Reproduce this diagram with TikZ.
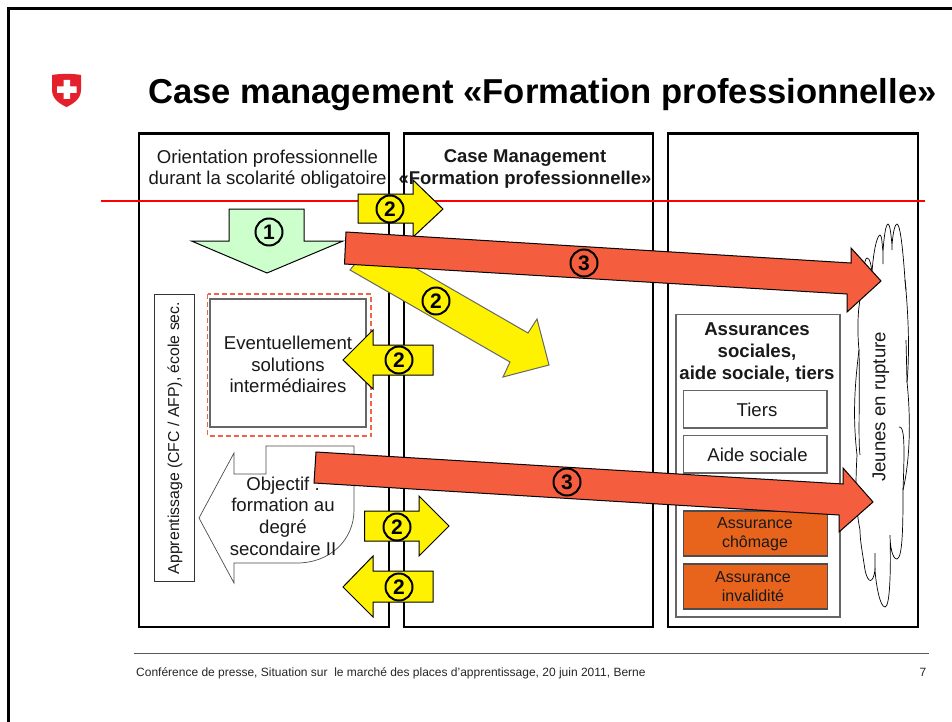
\documentclass[tikz,border=0pt]{standalone}
\usepackage{fontspec}
\setmainfont{Liberation Sans}
\definecolor{gfill}{HTML}{CCFFCC}
\definecolor{rfill}{HTML}{F55D3F}
\definecolor{ofill}{HTML}{E8641C}
\definecolor{dashc}{HTML}{F0644A}
\definecolor{logored}{HTML}{E4202C}
\newcommand{\fs}[1]{\fontsize{#1}{#1}\selectfont}
\tikzset{
 colbox/.style={draw=black,line width=2.2pt,fill=white},
 yarrow/.style={draw=black,line width=1pt,fill=yellow,line join=miter},
 rarrow/.style={draw=black,line width=1pt,fill=rfill},
 numc/.style={circle,draw=black,line width=2pt,inner sep=0pt,minimum size=27pt,font=\fs{21}\bfseries},
 lab/.style={align=center,inner sep=0pt,text=black!90},
 graybox/.style={draw=black!60,line width=1.2pt,fill=white},
 obox/.style={draw=black!70,line width=1.2pt,fill=ofill},
}
\begin{document}
\begin{tikzpicture}[x=1pt,y=-1pt]
\useasboundingbox (0,0) rectangle (952,722);
\fill[white] (0,0) rectangle (952,722);
\draw[line width=3pt] (8.5,722) -- (8.5,8.5) -- (952,8.5);
% logo
\fill[logored] (52,75) .. controls (60,73.5) and (73,73.5) .. (81,75) -- (81,90) .. controls (81,99) and (73,104) .. (66.5,107) .. controls (60,104) and (52,99) .. (52,90) -- cycle;
\fill[white] (63.5,80) rectangle (70,99) (57,86.5) rectangle (76.5,93);
\node[anchor=base west,inner sep=0pt,font=\fs{34.6}\bfseries] (title) at (148,104) {Case management «Formation professionnelle»};
% columns
\draw[colbox] (139,133.5) rectangle (389,627);
\draw[colbox] (404,133.5) rectangle (653,627);
\draw[colbox] (668,133.5) rectangle (918,627);
\node[lab,font=\fs{18.6}] (h1) at (267.5,169) {Orientation professionnelle\\[3pt]durant la scolarité obligatoire};
\node[lab,font=\fs{18.5}\bfseries] (h2) at (525,169) {Case Management\\[3pt]«Formation professionnelle»};
\draw[red,line width=2pt] (101,201) -- (925,201);
% left column
\node[draw=black!80,line width=1pt,fill=white,minimum width=40pt,minimum height=287pt,inner sep=0pt] (app) at (174,437.5) {};
\node[rotate=90,lab,font=\fs{15.8}] (apptext) at (175,438) {Apprentissage (CFC / AFP), école sec.};
\draw[dashc,dashed,line width=1.2pt,dash pattern=on 5pt off 3pt] (207.5,294) rectangle (371,436);
\node[draw=black!60,line width=1.2pt,fill=white,minimum width=156pt,minimum height=128pt,inner sep=0pt] (sol) at (288,363) {};
\node[lab,font=\fs{18.6}] (soltext) at (288,364.5) {Eventuellement\\[3pt]solutions\\[3pt]intermédiaires};
\draw[black!70,line width=.7pt,fill=white] (199,518) -- (234,453) -- (234,474) -- (266,474) -- (266,446) -- (354,446) -- (354,510) .. controls (354,540) and (330,563) .. (297,563) -- (234,563) -- (234,583) -- cycle;
\node[lab,font=\fs{18.6}] (obj) at (283,516) {Objectif :\\[3pt]formation au\\[3pt]degré\\[3pt]secondaire II};
% right column
\draw[graybox] (676,314.5) rectangle (840,617);
\node[lab,font=\fs{18.6}\bfseries] (assu) at (757,352.5) {Assurances\\[3pt]sociales,\\[3pt]aide sociale, tiers};
\draw[graybox] (683.5,390.5) rectangle (827,428);
\node[lab,font=\fs{18.6}] (tiers) at (757,410) {Tiers};
\draw[graybox] (683.5,435.5) rectangle (827,473);
\node[lab,font=\fs{18.6}] (aide) at (757.5,455) {Aide sociale};
\draw[obox] (683.5,511) rectangle (827.5,556);
\node[lab,font=\fs{16}] (cho) at (755,534.5) {Assurance\\[3pt]chômage};
\draw[obox] (683.5,564) rectangle (827.5,609);
\node[lab,font=\fs{16}] (inv) at (753,587) {Assurance\\[3pt]invalidité};
% cloud
\draw[black,line width=.7pt,fill=white] (872,272)
 .. controls (874,245) and (878,235) .. (880,235)
 .. controls (882,235) and (882,245) .. (883,252)
 .. controls (884,235) and (886,224) .. (888,224)
 .. controls (890,224) and (891,235) .. (892,245)
 .. controls (893,232) and (895,224) .. (897,224)
 .. controls (901,224) and (904,265) .. (905,280)
 .. controls (908,310) and (910,350) .. (907,382)
 .. controls (911,420) and (910,460) .. (903,490)
 .. controls (903,520) and (903,558) .. (897,559)
 .. controls (892,559) and (890,545) .. (890,535)
 .. controls (891,570) and (890,607) .. (885,607)
 .. controls (880,607) and (876,585) .. (875,570)
 .. controls (873,584) and (868,584) .. (865,570)
 .. controls (862,550) and (860,540) .. (860,530)
 .. controls (856,510) and (855,490) .. (857,455)
 .. controls (853,420) and (854,390) .. (859,350)
 .. controls (857,330) and (858,310) .. (860,300)
 .. controls (862,280) and (864,258) .. (867,258)
 .. controls (870,258) and (871,265) .. (872,272) -- cycle;
\draw[black,line width=.7pt] (883,252) -- (883,264) (892,245) -- (892,250) (905,280) -- (906,290) (907,382) -- (906,340) (899,427) .. controls (904,426) and (905,440) .. (903,490) (875,570) -- (875,553) (859,350) .. controls (860,400) and (858,440) .. (860,455);
\node[rotate=90,lab,font=\fs{18.6}] (jeunes) at (881,407) {Jeunes en rupture};
% arrows
\draw[draw=black!60,line width=1pt,fill=yellow] (350,270) -- (372,243) -- (417,269) -- (528,333) -- (537,319) -- (549,365) -- (503,377) -- (510,362) -- cycle;
\draw[draw=black,line width=1pt,fill=gfill] (229,209) -- (304,209) -- (304,241) -- (343,241) -- (267,273) -- (191.5,241) -- (229,241) -- cycle;
\node[numc] (n1) at (269,232) {1};
\draw[yarrow] (358,194) -- (413,194) -- (413,180) -- (443,209) -- (413,237) -- (413,223) -- (358,223) -- cycle;
\node[numc] (n2a) at (390,209) {2};
\draw[rarrow] (346,232) -- (851,263) -- (851,248) -- (881,281) -- (847,312) -- (847,294) -- (344.5,264) -- cycle;
\node[numc] (n3a) at (584,263) {3};
\node[numc] (n2b) at (436,301) {2};
\draw[yarrow] (433,345) -- (373,345) -- (373,330) -- (343,360) -- (373,389) -- (373,375) -- (433,375) -- cycle;
\node[numc] (n2c) at (399,360) {2};
\draw[rarrow] (316,452) -- (843,484) -- (843,468) -- (873,502) -- (839,532) -- (839,515) -- (314,483) -- cycle;
\node[numc] (n3b) at (567,482) {3};
\draw[yarrow] (364.5,511) -- (419,511) -- (419,496) -- (449,526) -- (419,556) -- (419,541) -- (364.5,541) -- cycle;
\node[numc] (n2d) at (397,527) {2};
\draw[yarrow] (433,571) -- (373,571) -- (373,556) -- (343,587) -- (373,617) -- (373,602) -- (433,602) -- cycle;
\node[numc] (n2e) at (399,587) {2};
% footer
\draw[black!65,line width=1pt] (134,653) -- (929,653);
\node[anchor=base west,inner sep=0pt,font=\fs{12},text=black!85] (foot) at (136,676) {Conférence de presse, Situation sur\ \ le marché des places d'apprentissage, 20 juin 2011, Berne};
\node[anchor=base,inner sep=0pt,font=\fs{12},text=black!85] (page) at (923,676) {7};
\end{tikzpicture}
\end{document}
